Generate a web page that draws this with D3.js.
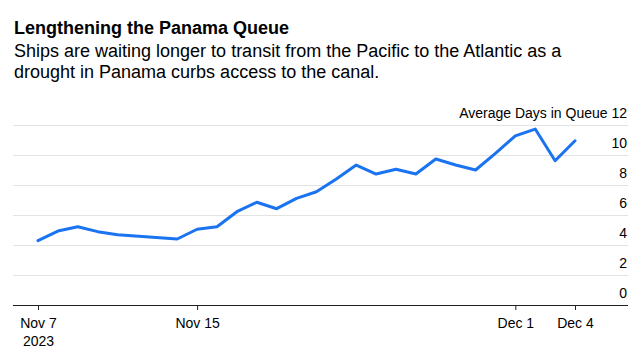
<!DOCTYPE html>
<html>
<head>
<meta charset="utf-8">
<script src="https://cdn.jsdelivr.net/npm/d3@7"></script>
<style>
  body { margin: 0; background: #fff; }
  svg { display: block; font-family: "Liberation Sans", Arial, sans-serif; }
</style>
</head>
<body>
<div id="chart"></div>
<script>
// dates with a reading (Nov 12 and Nov 13 have none, the line just joins across)
var dates = ["2023-11-07", "2023-11-08", "2023-11-09", "2023-11-10", "2023-11-11",
             "2023-11-14", "2023-11-15", "2023-11-16", "2023-11-17", "2023-11-18",
             "2023-11-19", "2023-11-20", "2023-11-21", "2023-11-22", "2023-11-23",
             "2023-11-24", "2023-11-25", "2023-11-26", "2023-11-27", "2023-11-28",
             "2023-11-29", "2023-11-30", "2023-12-01", "2023-12-02", "2023-12-03",
             "2023-12-04"];

// average days in queue
var daysInQueue = [4.29, 4.93, 5.22, 4.89, 4.69,
                   4.40, 5.05, 5.22, 6.22, 6.85,
                   6.42, 7.11, 7.55, 8.40, 9.33,
                   8.73, 9.05, 8.73, 9.73, 9.33,
                   9.00, 10.11, 11.27, 11.73, 9.62,
                   10.95];

// axis ticks
var xTicks = ["2023-11-07", "2023-11-15", "2023-12-01", "2023-12-04"];
var xTickLabels = ["Nov 7", "Nov 15", "Dec 1", "Dec 4"];
var yTicks = [0, 2, 4, 6, 8, 10, 12];

var title = "Lengthening the Panama Queue";
var subtitle = ["Ships are waiting longer to transit from the Pacific to the Atlantic as a",
                "drought in Panama curbs access to the canal."];
var yLabel = "Average Days in Queue";

var parse = d3.timeParse("%Y-%m-%d");
var data = dates.map(function(d, i) { return {date: parse(d), value: daysInQueue[i]}; });

var width = 641, height = 354;
var margin = {top: 125, right: 13, bottom: 49, left: 13};

var svg = d3.select("#chart")
    .append("svg")
    .attr("width", width)
    .attr("height", height);

svg.append("rect").attr("width", width).attr("height", height).attr("fill", "#fff");

// title and subtitle
svg.append("text")
    .attr("x", 14)
    .attr("y", 34)
    .attr("font-size", 18)
    .attr("font-weight", "bold")
    .attr("fill", "#000")
    .text(title);

svg.selectAll(".sub")
    .data(subtitle)
    .enter()
    .append("text")
    .attr("class", "sub")
    .attr("x", 14)
    .attr("y", function(d, i) { return 57 + i * 20.5; })
    .attr("font-size", 18)
    .attr("fill", "#000")
    .text(function(d) { return d; });

// scales
var x = d3.scaleTime()
    .domain([parse("2023-11-07"), parse("2023-12-04")])
    .range([38, 575]);

var y = d3.scaleLinear()
    .domain([0, 12])
    .range([height - margin.bottom, margin.top]);

// gridlines + right hand labels
var yAxis = svg.append("g")
    .attr("transform", "translate(" + (width - margin.right) + ",0)")
    .call(d3.axisRight(y)
        .tickValues(yTicks)
        .tickSize(-(width - margin.right - margin.left))
        .tickFormat(function(d) { return d == 12 ? yLabel + " 12" : d; }));

yAxis.select(".domain").remove();
yAxis.selectAll(".tick line")
    .attr("stroke", "#e3e3e3")
    .attr("stroke-width", 1);
yAxis.selectAll(".tick text")
    .attr("x", -1)
    .attr("dy", -8)
    .attr("text-anchor", "end")
    .attr("font-size", 14)
    .attr("font-family", "Liberation Sans, Arial, sans-serif")
    .attr("fill", "#000");

// bottom axis
var xAxis = svg.append("g")
    .attr("transform", "translate(0," + (height - margin.bottom) + ")")
    .call(d3.axisBottom(x)
        .tickValues(xTicks.map(parse))
        .tickSize(5)
        .tickSizeOuter(0)
        .tickFormat(function(d, i) { return xTickLabels[i]; }));

xAxis.select(".domain")
    .attr("d", "M" + margin.left + ",0.5H" + (width - margin.right))
    .attr("stroke", "#222");
xAxis.selectAll(".tick line").attr("stroke", "#222");
xAxis.selectAll(".tick text")
    .attr("y", 23)
    .attr("dy", 0)
    .attr("font-size", 14)
    .attr("font-family", "Liberation Sans, Arial, sans-serif")
    .attr("fill", "#000");

// year under the first tick
xAxis.select(".tick text")
    .append("tspan")
    .attr("x", 0)
    .attr("dy", 18)
    .text("2023");

// the line
var line = d3.line()
    .x(function(d) { return x(d.date); })
    .y(function(d) { return y(d.value); });

svg.append("path")
    .datum(data)
    .attr("d", line)
    .attr("fill", "none")
    .attr("stroke", "#1a73f0")
    .attr("stroke-width", 3)
    .attr("stroke-linejoin", "round")
    .attr("stroke-linecap", "round");
</script>
</body>
</html>
